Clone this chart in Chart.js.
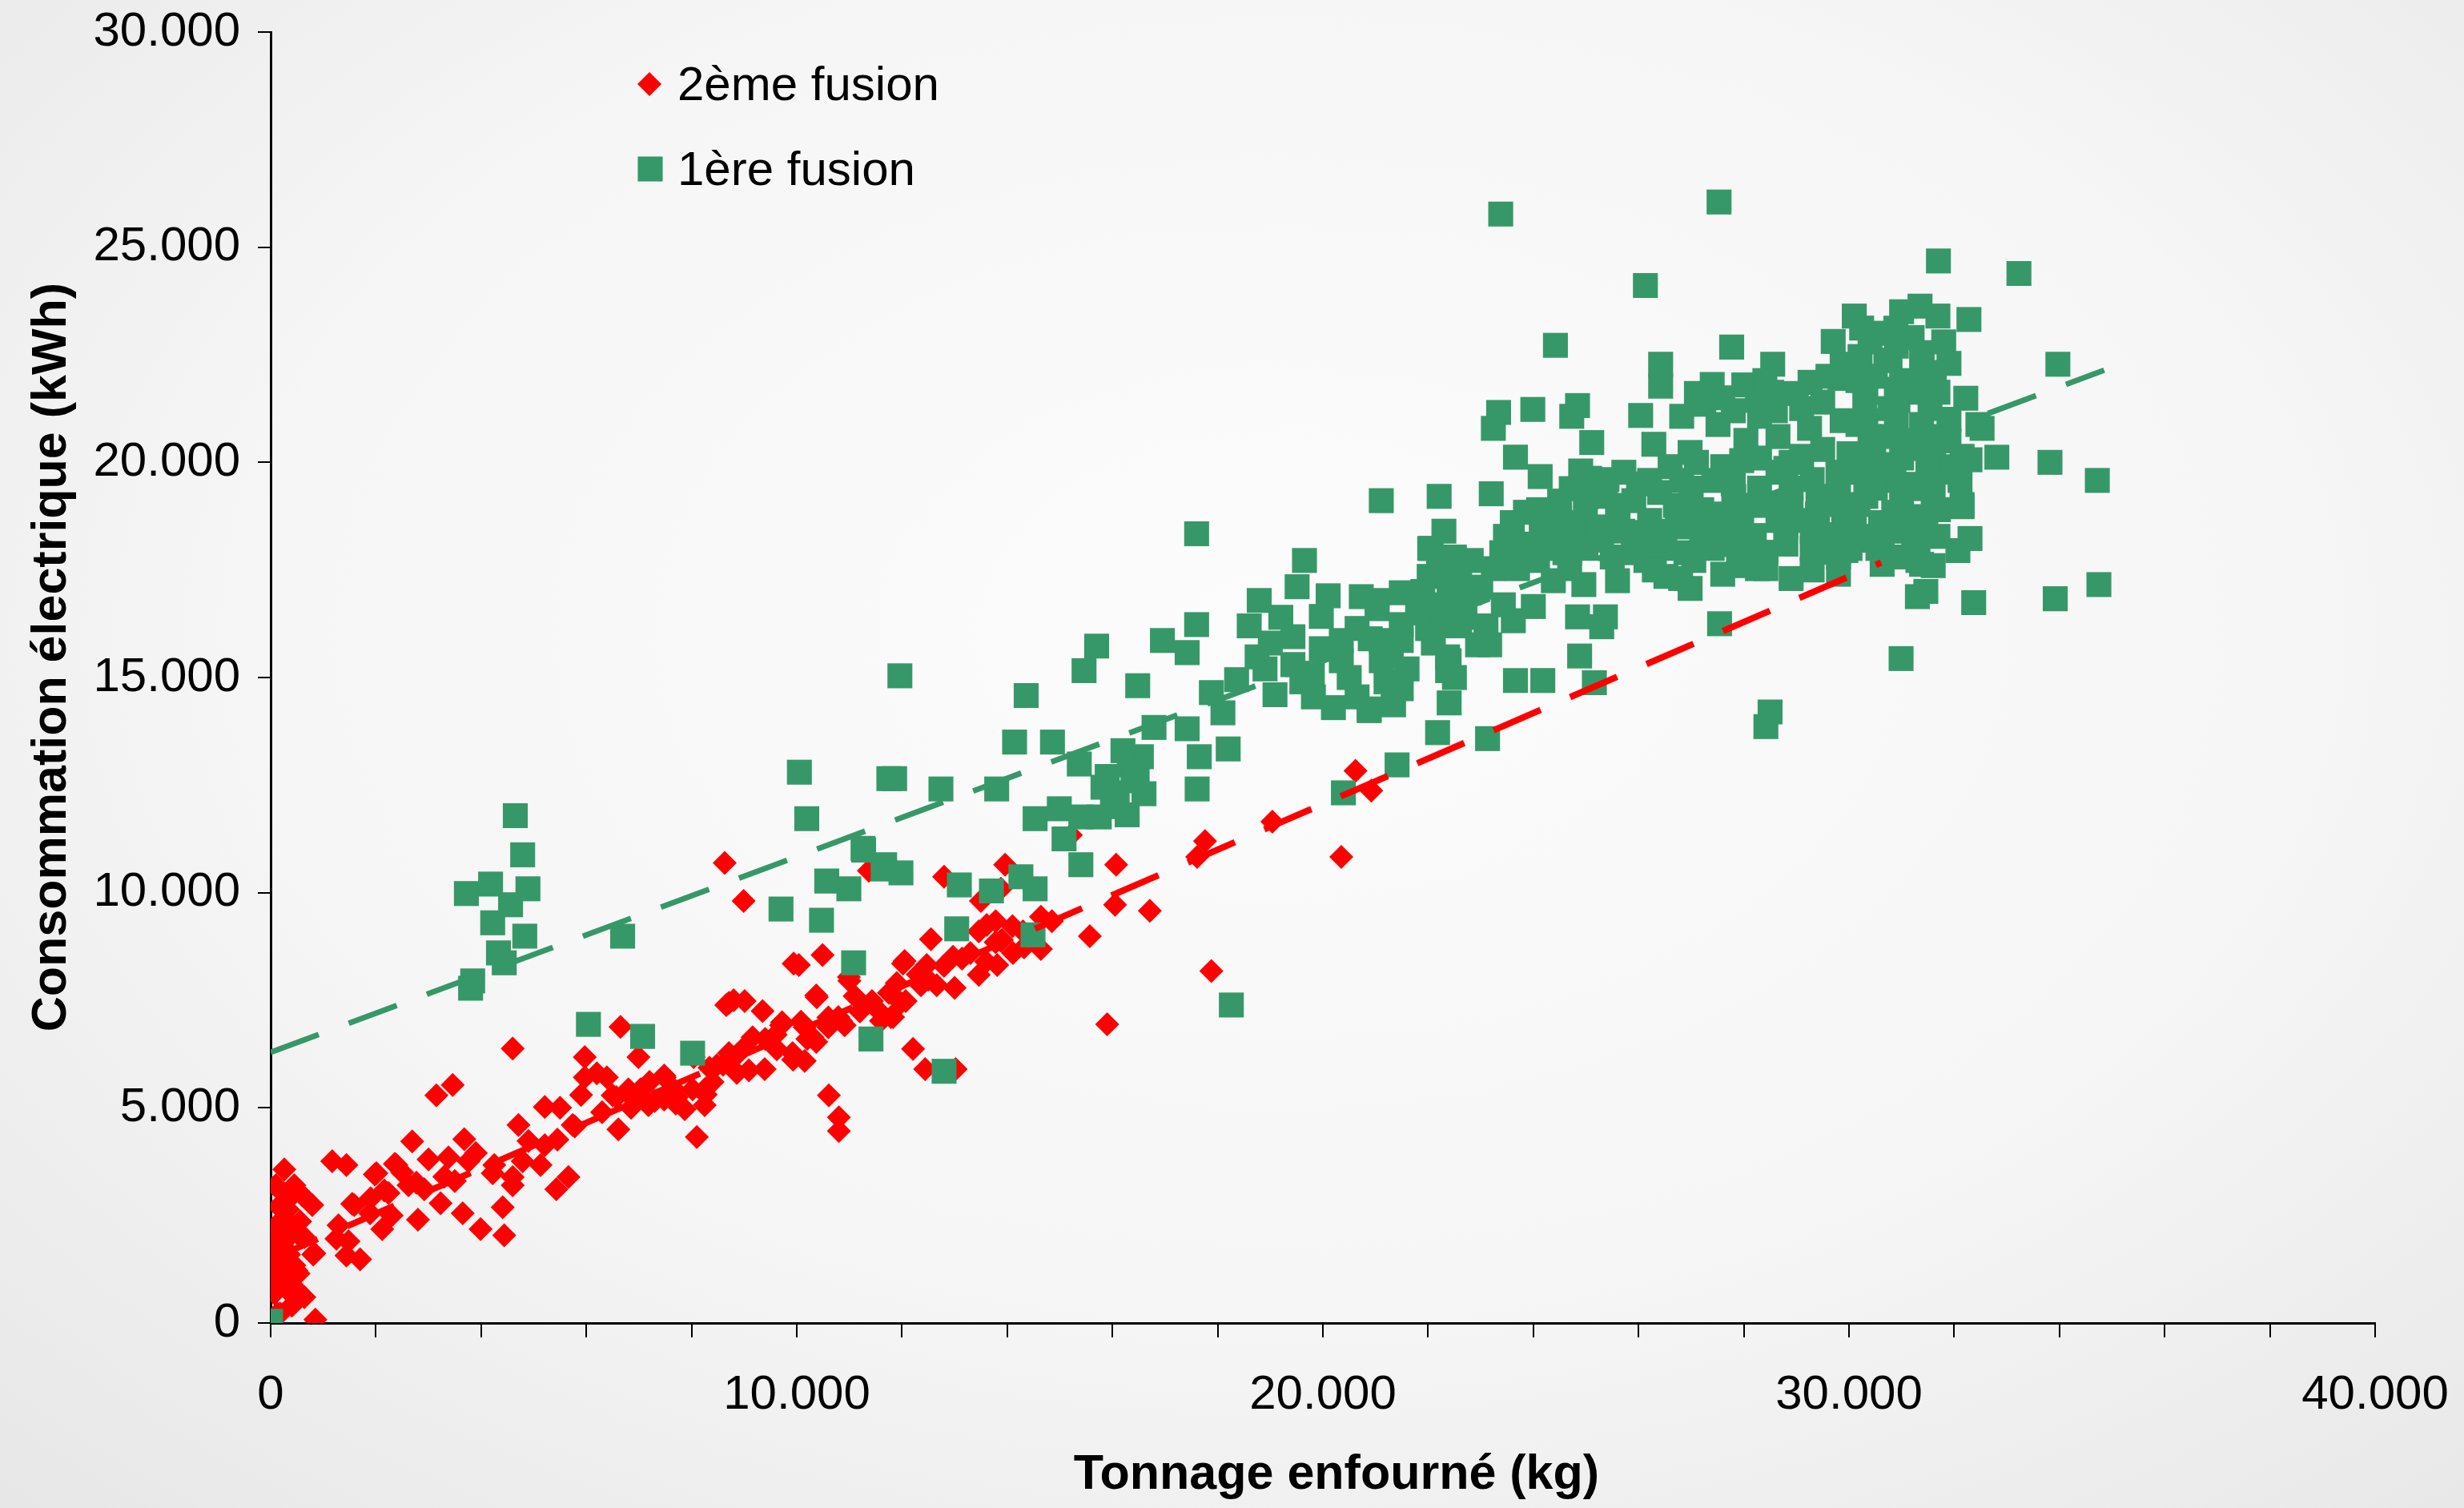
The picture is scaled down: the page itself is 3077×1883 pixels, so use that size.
<!DOCTYPE html>
<html>
<head>
<meta charset="utf-8">
<title>Consommation électrique / tonnage enfourné</title>
<script src="https://cdn.jsdelivr.net/npm/chart.js@4.4.1/dist/chart.umd.min.js"></script>
<style>
  html, body { margin: 0; padding: 0; }
  body {
    width: 3077px; height: 1883px; overflow: hidden;
    background: radial-gradient(ellipse 75% 80% at 52% 42%, #fcfcfc 0%, #f6f6f6 55%, #e7e7e7 100%);
  }
  #wrap { position: relative; width: 3077px; height: 1883px; }
</style>
</head>
<body>
<div id="wrap"><canvas id="chart"></canvas></div>
<script>
/* ---------------------------------------------------------------
   DATA (values in thousands: tonnage kg, consumption kWh)
   --------------------------------------------------------------- */
const xTicksLabelled = [0, 10000, 20000, 30000, 40000];

// 2ème fusion (red diamonds)
const fusion2 = [
  [0.26,3.57],[0.45,3.2],[0.1,3.2],[0.79,2.74],[0.6,2.97],[0.33,2.64],[0.18,2.36],[0.41,2.08],[0.64,1.99],
  [0.83,1.62],[0.22,1.8],[0.1,1.43],[0.45,1.34],[0.33,1.06],[0.14,0.87],[0.49,0.78],[0.41,0.41],[0.18,0.22],
  [0.03,0.04],[0.85,0.08],[0.3,2.83],[0.07,2.08],[0.56,2.36],[0.26,1.53],[0.53,1.15],[0.64,0.6],[0.07,0.69],
  [0.22,1.2],[0.13,3.14],[0.49,3.08],[0.15,2.71],[0.35,2.34],[0.15,2.09],[0.55,2.03],[0.0,1.65],[0.35,1.59],
  [0.81,1.59],[0.13,1.22],[0.49,1.22],[0.0,0.84],[0.35,0.72],[0.4,0.41],[0.13,0.22],
  [1.17,3.76],[1.44,3.67],[1.29,2.27],[1.48,1.9],[1.7,1.48],[1.44,1.57],[1.59,2.74],[1.89,2.55],[2.01,3.48],
  [2.39,3.67],[2.12,2.18],[2.24,3.02],[1.55,2.77],[1.25,1.96],[1.98,3.45],[2.16,3.08],[2.36,3.7],[2.77,3.26],
  [2.5,3.5],[3.0,3.8],[3.5,3.3],[2.8,2.4],[3.3,3.4],[1.9,2.9],[2.3,2.5],
  [2.69,4.22],[2.62,3.2],[2.92,3.11],[3.23,2.78],[3.15,5.29],[3.46,5.53],[3.38,3.85],[3.68,4.27],[3.76,3.76],
  [3.65,2.55],[3.99,2.18],[4.44,2.04],[4.41,2.69],[4.25,3.67],[4.6,3.39],[4.71,4.6],[4.79,3.76],[4.6,6.38],
  [5.21,5.02],[5.21,4.13],[5.43,3.11],[5.66,3.39],[5.74,4.6],[5.97,6.18],[5.97,5.71],[6.39,5.71],[6.5,5.29],
  [6.65,6.88],[6.61,4.5],[6.99,6.18],[7.03,5.43],[7.3,5.16],[7.49,5.71],[7.87,4.97],[8.1,4.32],[8.02,5.43],
  [8.25,5.06],[8.63,10.69],[8.99,9.81],[8.48,5.99],[8.71,7.44],[8.78,6.18],[9.01,7.48],[8.86,5.81],[9.35,7.25],
  [9.16,6.64],[9.39,5.9],[9.7,6.92],[9.92,6.27],[10.04,8.32],[10.15,6.09],[10.38,7.57],[10.49,8.55],[10.3,6.64],
  [10.61,5.29],[10.8,4.78],[10.8,4.46],[10.84,7.02],[10.99,8.04],[11.37,10.51],[11.6,7.2],[10.08,7.0],[9.62,6.36],
  [8.71,6.27],[8.25,5.43],[7.72,5.25],[7.18,5.06],[6.8,5.43],[6.2,5.8],[4.9,4.23],[5.13,3.67],[4.22,3.48],
  [4.6,3.2],[3.9,3.95],
  [9.94,8.35],[12.02,8.35],[8.66,7.39],[8.8,7.5],[9.72,6.99],[10.37,7.61],[10.79,7.11],[11.75,7.67],[12.5,7.98],
  [13.14,8.47],[13.78,8.85],[14.1,9.22],[13.78,9.34],[14.85,9.34],[14.32,8.73],[13.46,9.1],[13.0,7.79],[11.43,7.48],
  [11.83,7.11],[10.15,6.87],[9.4,6.6],[8.87,6.24],[8.34,5.93],[8.04,6.18],[7.48,5.75],[7.06,5.43],[6.57,5.25],
  [6.85,5.0],[5.78,4.57],[5.45,4.26],[7.48,5.19],[7.67,5.43],[8.27,5.31],[9.09,5.87],[9.93,6.12],[10.37,6.53],
  [10.6,6.87],[11.2,7.24],[12.07,7.48],
  [5.5,5.0],[5.9,5.3],[6.3,4.9],[6.9,5.2],[7.2,5.6],[7.7,5.1],[8.4,5.6],[8.6,6.0],[9.0,6.4],[9.6,6.7],
  [10.2,6.6],[10.6,7.1],[11.1,7.6],[11.9,7.9],[12.3,8.1],[12.8,8.3],[13.3,8.6],[13.9,8.9],[14.3,9.1],[13.6,8.4],
  [15.21,11.34],[16.07,10.65],[16.05,9.72],[16.71,9.58],[15.57,8.99],[17.88,8.18],[15.9,6.94],[17.76,11.2],
  [17.61,10.83],[19.04,11.65],[20.35,10.83],[20.62,12.83],[20.92,12.37],[13.96,10.65],[12.8,10.37],[11.41,10.55],
  [13.5,9.81],[13.88,10.09],[13.61,9.25],[13.88,8.88],[13.81,8.32],[14.11,8.6],[13.46,8.09],[14.64,8.69],
  [14.64,9.44],[12.55,8.92],[12.05,8.41],[12.47,8.32],[12.66,7.85],[12.97,8.51],[12.36,7.85],[11.98,7.44],
  [11.79,7.11],[11.6,7.02],[11.0,7.95],[10.91,6.92],[12.21,6.37],[12.44,5.9],[13.02,5.9]
];

// 1ère fusion (green squares)
const fusion1 = [
  [0.0,0.04],
  [4.65,11.79],[4.79,10.88],[3.72,9.98],[4.18,10.2],[4.89,10.09],[4.56,9.72],[4.22,9.3],[4.83,8.99],[4.33,8.6],
  [4.44,8.37],[3.8,7.78],[3.84,7.95],[6.69,8.99],[6.04,6.94],[7.07,6.66],[8.02,6.27],[10.05,12.8],[10.19,11.72],
  [9.7,9.62],[10.47,9.36],[10.57,10.27],[10.99,10.09],[11.27,10.99],[11.64,10.55],[11.75,12.65],[11.08,8.37],
  [11.41,6.6],
  [11.96,15.04],[11.86,12.65],[11.26,11.03],[11.67,10.65],[11.98,10.46],[12.74,12.41],[13.8,12.41],[13.09,10.18],
  [13.7,10.04],[14.26,10.37],[14.53,10.09],[13.04,9.16],[14.49,9.02],[12.8,5.85],[14.36,14.58],[14.14,13.5],
  [14.86,13.5],[15.7,15.73],[15.46,15.16],[15.37,12.99],[14.53,11.72],[14.99,11.95],[15.4,11.76],[15.75,11.76],
  [16.28,11.81],[16.09,12.32],[16.32,12.97],[16.55,13.16],[16.47,12.6],[15.08,11.25],[15.4,10.65],[16.48,14.81],
  [16.79,13.84],[17.6,18.34],[16.95,15.86],[17.42,15.58],[17.6,16.23],[17.42,13.81],[17.65,13.16],[17.61,12.41],
  [18.2,13.34],[18.1,14.18],[17.88,14.65],[18.36,14.95],[19.51,17.11],[19.65,17.72],[18.79,16.79],[18.75,15.48],
  [19.09,14.6],[19.43,15.95],[19.43,15.3],[19.82,14.55],[19.97,15.67],[20.35,15.39],[20.73,16.88],[20.65,16.14],
  [21.03,16.6],[20.65,14.55],[20.88,14.23],[21.11,15.39],[21.41,14.83],[21.49,15.86],[21.34,14.37],[21.11,19.11],
  [22.21,19.21],[22.06,18.0],[22.02,17.35],[22.02,16.14],[22.4,15.39],[22.4,14.41],[22.18,13.72],[22.56,16.69],
  [21.41,12.97],[20.39,12.32],[18.26,7.39],[20.35,15.86],[19.97,16.42],
  [15.82,12.45],[16.39,12.82],[16.0,12.0],[16.6,12.3],[15.9,12.7],[16.2,13.3],
  [18.6,16.2],[19.0,15.8],[19.2,16.4],[19.8,15.1],[20.1,16.9],[20.5,15.0],[20.9,15.9],[21.2,14.9],[19.6,14.9],
  [20.2,14.3],[21.6,15.2],[18.9,15.2],
  [23.38,25.77],[27.53,26.05],[26.13,24.11],[31.7,24.68],[24.42,22.72],[27.77,22.68],[32.28,23.32],[28.55,22.28],
  [29.7,22.81],[26.42,22.28],[26.42,21.77],[23.2,19.27],[32.37,16.74],[30.99,15.44],[28.5,14.2],[28.42,13.86],
  [24.88,15.5],[23.66,14.93],[24.18,14.93],[25.16,14.88],[23.13,13.58],[27.54,16.25],[31.3,16.88],
  [23.34,21.16],[23.24,20.79],[23.99,21.23],[24.84,21.32],[24.73,21.07],[25.11,20.46],[26.04,21.09],[23.66,20.12],
  [24.13,19.67],[24.72,19.39],[25.07,19.63],[25.72,19.77],[26.29,20.42],[26.82,21.07],[27.4,21.81],[27.24,21.35],
  [27.51,20.88],[28.53,21.63],[28.3,21.07],[29.26,21.86],[29.1,21.25],[29.83,21.95],[30.24,23.12],[30.89,23.12],
  [31.35,23.63],[31.69,23.4],[30.21,22.46],[30.7,22.37],[31.39,22.55],[31.62,22.09],[29.87,20.97],[30.32,21.63],
  [30.93,21.44],[31.54,21.25],[31.69,21.63],[32.22,21.49],[32.45,20.88],[32.15,20.14],[32.11,19.58],[32.15,19.02],
  [32.3,18.23],[32.07,17.95],[31.46,17.0],[31.31,17.72],[31.23,18.65],[31.39,19.39],[31.31,20.32],[30.63,20.6],
  [30.24,20.04],[30.85,19.58],[30.85,18.84],[30.63,18.09],[29.97,18.37],[29.56,17.91],[29.1,18.65],[29.41,19.21],
  [29.79,19.77],[29.1,20.14],[28.65,19.77],[28.65,19.02],[28.42,17.91],[28.42,17.53],[28.65,18.65],[27.96,18.65],
  [27.58,18.09],[27.43,19.58],[27.96,20.04],[28.04,20.51],[26.98,20.23],[26.82,19.58],[26.74,18.93],[27.2,18.28],
  [26.44,18.0],[26.21,18.65],[25.91,19.11],[26.21,19.58],[25.61,18.65],[25.3,18.19],[24.84,18.28],[24.38,18.19],
  [23.85,18.84],[23.47,18.28],[24.08,17.72],[24.69,17.53],[24.96,17.16],[25.6,17.25],[26.14,17.72],[26.52,17.35],
  [26.98,17.07],[29.56,18.32],[30.4,18.19],[30.63,17.63],[31.69,18.28],[28.26,17.53],[30.02,18.0],[28.04,18.09],
  [24.0,16.65],[23.62,16.32],[23.43,16.69],[23.17,15.76],[22.94,15.76],[22.37,15.48],[22.37,15.16],[24.84,16.41],
  [25.37,16.41],[25.3,16.18],[22.03,18.0],[22.1,16.69],[21.99,16.14],[21.49,16.97],[21.03,16.79],[21.49,16.23],
  [21.11,15.86],[21.3,15.48],[21.49,14.74],[21.34,14.37],[20.88,14.27],[22.82,17.72],[22.4,17.25],[22.79,16.97],
  [23.24,17.53],[23.7,17.53],[24.38,17.25],[24.15,18.56],[24.99,18.84],[25.37,19.21],[24.69,17.9],[26.06,18.37],
  [27.05,17.72],[27.35,18.37],[27.81,19.21],[28.8,19.86],[29.25,20.79],[28.65,20.6],[28.26,21.44],[29.87,22.28],
  [30.32,20.97],[29.71,19.02],[30.17,19.02],
  [33.23,24.39],[33.97,22.28],[32.53,20.79],[32.3,20.06],[32.81,20.12],[33.82,20.0],[34.72,19.58],[32.15,18.97],
  [33.92,16.83],[34.75,17.16],[31.38,22.37],[30.78,22.37],[30.17,21.9],[31.23,21.63],[31.61,22.0],[30.78,21.25],
  [30.17,20.88],[31.38,20.88],[30.47,20.32],[31.08,20.51],[31.61,20.32],[30.17,19.77],[30.85,19.95],[31.31,19.49],
  [31.76,19.77],[30.32,19.21],[31.46,18.74],[30.32,18.28],[31.23,18.19],[30.55,18.0],[31.38,17.63],[29.94,17.95],
  [26.3,17.5],[26.8,17.3],[27.6,17.4],[28.0,17.6],[28.9,17.3],[29.3,17.5],[29.8,17.4],
  [26.9,17.9],[27.4,18.0],[27.9,17.8],[28.8,18.1],[29.3,18.0],[29.8,17.8],
  [26.5,18.4],[26.9,18.5],[27.5,18.5],[28.2,18.3],[28.8,18.5],[29.3,18.4],[29.9,18.6],
  [26.7,19.0],[27.2,18.9],[27.6,18.8],[28.2,19.0],[28.9,18.9],[29.4,18.8],[29.9,19.0],
  [26.4,19.3],[27.0,19.4],[27.8,19.5],[28.3,19.4],[28.9,19.4],[29.3,19.6],[29.8,19.3],
  [26.6,19.9],[27.1,20.0],[27.6,19.9],[28.3,20.1],[28.9,20.0],[29.5,20.3],[30.0,20.2],
  [30.1,23.4],[30.6,23.0],[31.0,23.5],[30.4,22.8],[30.9,22.7],[31.2,22.9],[31.8,22.8],
  [30.0,22.1],[30.5,22.0],[31.0,21.9],[31.9,22.3],[30.3,21.4],[30.9,21.7],[31.4,21.9],[31.9,21.0],
  [30.4,20.6],[30.9,20.9],[31.5,20.6],[31.9,20.5],[30.6,19.9],[31.0,20.1],[31.5,20.0],[32.0,19.9],
  [30.5,19.4],[31.0,19.2],[31.6,19.3],[30.1,18.7],[30.6,18.6],[31.0,18.4],[31.7,18.9],[30.9,17.8],[31.6,17.6],
  [24.6,17.9],[25.0,18.0],[25.5,17.8],[25.9,17.9],[26.3,18.2],[24.7,18.6],[25.2,18.5],[25.7,18.4],[24.5,19.1],
  [25.0,19.2],[25.6,19.0],[26.0,19.5],[25.4,19.6],[24.9,19.8],
  [23.4,17.9],[23.8,18.1],[24.2,18.0],[23.6,18.6],[24.1,18.9],[24.5,18.7],
  [21.8,16.5],[22.3,16.2],[22.7,16.4],[23.1,16.2],[21.9,17.0],[22.4,16.8],[22.6,17.5],[22.2,17.7],[23.0,17.1],
  [27.1,21.6],[27.6,21.5],[28.0,21.8],[27.8,21.2],[28.4,21.9],
  [28.6,21.2],[29.0,21.6],[29.5,21.4],[29.6,22.0],
  [22.3,18.4],[22.5,17.8],[22.6,16.2],[22.1,15.8],[22.5,15.0]
];

// linear trend lines (end points)
const trend2 = [[0, 1.48], [30.61, 17.67]];
const trend1 = [[0, 6.29], [34.85, 22.14]];

const RED = "#ff0000";
const GREEN = "#369868";
const FONT = "'Liberation Sans', Arial, Helvetica, sans-serif";

const toPoints = arr => arr.map(([x, y]) => ({ x: x * 1000, y: y * 1000 }));
const fmt = v => String(v).replace(/\B(?=(\d{3})+(?!\d))/g, ".");

/* ---------------------------------------------------------------
   Legend drawn inside the plot, top-left
   --------------------------------------------------------------- */
const innerLegend = {
  id: "innerLegend",
  afterDraw(chart) {
    const ctx = chart.ctx;
    const items = [
      { ds: chart.data.datasets[0], x: 811, y: 105 },
      { ds: chart.data.datasets[1], x: 812, y: 211 }
    ];
    ctx.save();
    items.forEach(it => {
      ctx.fillStyle = it.ds.backgroundColor;
      Chart.helpers.drawPoint(ctx, {
        pointStyle: it.ds.pointStyle,
        radius: it.ds.pointRadius,
        borderWidth: 0
      }, it.x, it.y);
      ctx.fillStyle = "#000";
      ctx.font = "60px " + FONT;
      ctx.textBaseline = "middle";
      ctx.textAlign = "left";
      ctx.fillText(it.ds.label, 846, it.y + 3);
    });
    ctx.restore();
  }
};

/* ---------------------------------------------------------------
   Chart
   --------------------------------------------------------------- */
const ctx = document.getElementById("chart").getContext("2d");

new Chart(ctx, {
  type: "scatter",
  data: {
    datasets: [
      {
        label: "2ème fusion",
        data: toPoints(fusion2),
        pointStyle: "rectRot",
        pointRadius: 15,
        backgroundColor: RED,
        borderWidth: 0,
        order: 2
      },
      {
        label: "1ère fusion",
        data: toPoints(fusion1),
        pointStyle: "rect",
        pointRadius: 22,
        backgroundColor: GREEN,
        borderWidth: 0,
        order: 1
      },
      {
        label: "Tendance 2ème fusion",
        data: toPoints(trend2),
        showLine: true,
        pointRadius: 0,
        borderColor: RED,
        borderWidth: 8,
        borderDash: [64, 40],
        order: 0
      },
      {
        label: "Tendance 1ère fusion",
        data: toPoints(trend1),
        showLine: true,
        pointRadius: 0,
        borderColor: GREEN,
        borderWidth: 7,
        borderDash: [64, 40],
        order: 0
      }
    ]
  },
  options: {
    responsive: true,
    maintainAspectRatio: false,
    animation: false,
    layout: { padding: { left: 0, right: 111, top: 40, bottom: 0 } },
    plugins: {
      legend: { display: false },
      tooltip: { enabled: false }
    },
    scales: {
      x: {
        type: "linear",
        min: 0,
        max: 40000,
        afterFit: s => { s.height = 231; },
        border: { display: true, color: "#000", width: 3 },
        // long tick room for label spacing, only the first 16px is inked
        grid: {
          drawOnChartArea: false, drawTicks: true, tickLength: 44,
          tickBorderDash: [16, 1000], color: "#000", lineWidth: 2
        },
        ticks: {
          stepSize: 2000,
          autoSkip: false,
          maxRotation: 0,
          padding: 10,
          color: "#000",
          font: { family: FONT, size: 60 },
          callback: v => (xTicksLabelled.includes(v) ? fmt(v) : "")
        },
        title: {
          display: true,
          text: "\u00a0\u00a0Tonnage enfourné (kg)",
          color: "#000",
          font: { family: FONT, size: 61, weight: "bold" },
          padding: { top: 0, bottom: 4 }
        }
      },
      y: {
        type: "linear",
        min: 0,
        max: 30000,
        afterFit: s => { s.width = 338; },
        border: { display: true, color: "#000", width: 3 },
        grid: {
          drawOnChartArea: false, drawTicks: true, tickLength: 34,
          tickBorderDash: [0, 18, 16, 1000], color: "#000", lineWidth: 2
        },
        ticks: {
          stepSize: 5000,
          padding: 4,
          color: "#000",
          font: { family: FONT, size: 60 },
          callback: v => fmt(v)
        },
        title: {
          display: true,
          text: "\u00a0\u00a0\u00a0Consommation électrique (kWh)",
          color: "#000",
          font: { family: FONT, size: 61, weight: "bold" },
          padding: { top: 29, bottom: 0 }
        }
      }
    }
  },
  plugins: [innerLegend]
});
</script>
</body>
</html>
